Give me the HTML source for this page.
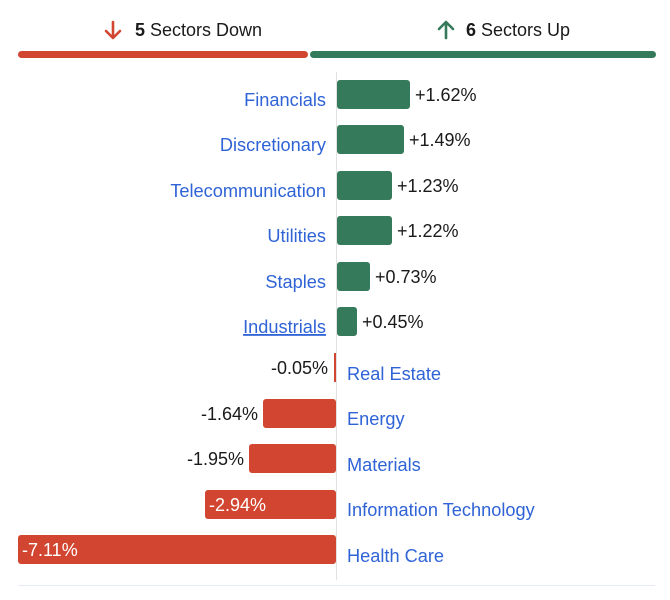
<!DOCTYPE html>
<html><head><meta charset="utf-8"><style>
html,body{margin:0;padding:0;background:#fff;width:670px;height:600px;overflow:hidden}
svg{display:block;font-family:"Liberation Sans",sans-serif}
.l{fill:#2f63d6;font-size:18.2px}
.v{fill:#1a1a1a;font-size:18px}
</style></head><body>
<svg width="670" height="600" viewBox="0 0 670 600">
<rect width="670" height="600" fill="#fff"/>
<!-- header -->
<path d="M113 22 V37 M106 31 L113 38 L120 31" stroke="#d24631" stroke-width="2.6" fill="none" stroke-linecap="round" stroke-linejoin="round"/>
<text x="135" y="36" font-size="18" fill="#1a1a1a"><tspan font-weight="bold">5</tspan> Sectors Down</text>
<path d="M446 38 V23 M439 29 L446 22 L453 29" stroke="#357a5b" stroke-width="2.6" fill="none" stroke-linecap="round" stroke-linejoin="round"/>
<text x="466" y="36" font-size="18" fill="#1a1a1a"><tspan font-weight="bold">6</tspan> Sectors Up</text>
<rect x="18" y="51" width="290" height="7" rx="3.5" fill="#d24631"/>
<rect x="310" y="51" width="346" height="7" rx="3.5" fill="#357a5b"/>
<!-- axis -->
<line x1="336.5" y1="72" x2="336.5" y2="580" stroke="#e2e2e2" stroke-width="1"/>
<line x1="18" y1="585.5" x2="655" y2="585.5" stroke="#e6ecf2" stroke-width="1"/>
<!-- positive -->
<g fill="#357a5b">
<rect x="337" y="80" width="73" height="29" rx="3"/>
<rect x="337" y="125" width="67" height="29" rx="3"/>
<rect x="337" y="171" width="55" height="29" rx="3"/>
<rect x="337" y="216" width="55" height="29" rx="3"/>
<rect x="337" y="262" width="33" height="29" rx="3"/>
<rect x="337" y="307" width="20" height="29" rx="3"/>
</g>
<g class="v">
<text x="415" y="101">+1.62%</text>
<text x="409" y="146">+1.49%</text>
<text x="397" y="192">+1.23%</text>
<text x="397" y="237">+1.22%</text>
<text x="375" y="283">+0.73%</text>
<text x="362" y="328">+0.45%</text>
</g>
<g class="l" text-anchor="end">
<text x="326" y="106">Financials</text>
<text x="326" y="151">Discretionary</text>
<text x="326" y="197">Telecommunication</text>
<text x="326" y="242">Utilities</text>
<text x="326" y="288">Staples</text>
<text x="326" y="333" text-decoration="underline">Industrials</text>
</g>
<!-- negative -->
<g fill="#d24631">
<rect x="334" y="353" width="2" height="29"/>
<rect x="263" y="399" width="73" height="29" rx="3"/>
<rect x="249" y="444" width="87" height="29" rx="3"/>
<rect x="205" y="490" width="131" height="29" rx="3"/>
<rect x="18" y="535" width="318" height="29" rx="3"/>
</g>
<g class="v" text-anchor="end">
<text x="328" y="374">-0.05%</text>
<text x="258" y="420">-1.64%</text>
<text x="244" y="465">-1.95%</text>
</g>
<g font-size="18" fill="#fff">
<text x="209" y="511">-2.94%</text>
<text x="22" y="556">-7.11%</text>
</g>
<g class="l">
<text x="347" y="380">Real Estate</text>
<text x="347" y="425">Energy</text>
<text x="347" y="471">Materials</text>
<text x="347" y="516">Information Technology</text>
<text x="347" y="562">Health Care</text>
</g>
</svg>
</body></html>
